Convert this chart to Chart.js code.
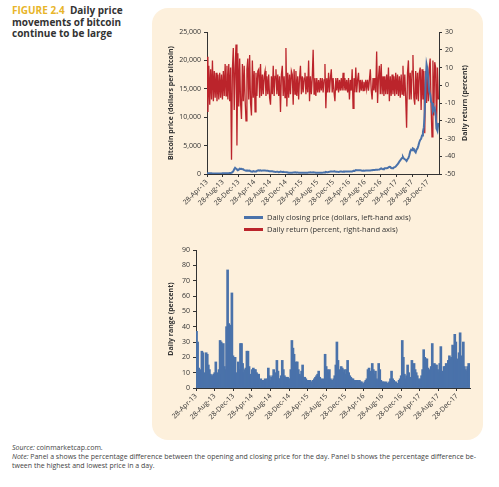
<!DOCTYPE html>
<html>
<head>
<meta charset="utf-8">
<script src="https://cdn.jsdelivr.net/npm/chart.js@4.4.1/dist/chart.umd.min.js"></script>
<style>
  body { margin: 0; background: #fff; font-family: "Open Sans", sans-serif; color: #333; }
  #wrap { position: relative; width: 499px; height: 487px; overflow: hidden; }
  .panel { position: absolute; left: 152px; top: 8px; width: 331px; height: 432px; background: #fdf0dc; border-radius: 16px; }
  .title { position: absolute; left: 12px; top: 5px; font-weight: 700; font-size: 10px; line-height: 11.5px; color: #333; }
  .title .fig { color: #e8b52a; }
  canvas { position: absolute; }
  #legend { position: absolute; left: 244px; top: 211px; font-size: 7.5px; line-height: 12px; color: #333; }
  #legend .item { display: flex; align-items: center; }
  #legend .sw { width: 19px; height: 3px; margin-right: 4px; }
  .foot { position: absolute; left: 12px; top: 443px; font-size: 7px; line-height: 9px; color: #444; width: 480px; }
</style>
</head>
<body>
<div id="wrap">
  <div class="panel"></div>
  <div class="title"><span class="fig">FIGURE 2.4</span>&nbsp; Daily price<br>movements of bitcoin<br>continue to be large</div>
  <canvas id="topChart" width="307" height="192" style="left:163px; top:22px;"></canvas>
  <div id="legend"></div>
  <canvas id="rangeChart" width="315" height="188" style="left:163px; top:240px;"></canvas>
  <div class="foot"><i>Source:</i> coinmarketcap.com.<br><i>Note:</i> Panel a shows the percentage difference between the opening and closing price for the day. Panel b shows the percentage difference be-<br>tween the highest and lowest price in a day.</div>
</div>
<script>
// weekly samples starting 28-Apr-13
const stepDays = 7;
const tickLabels = ['28-Apr-13', '28-Aug-13', '28-Dec-13', '28-Apr-14', '28-Aug-14', '28-Dec-14', '28-Apr-15',
  '28-Aug-15', '28-Dec-15', '28-Apr-16', '28-Aug-16', '28-Dec-16', '28-Apr-17', '28-Aug-17', '28-Dec-17'];

// closing price, dollars
const price = [
  130, 115, 118, 122, 130, 122, 105, 100, 105, 90,
  75, 95, 90, 95, 105, 107, 110, 120, 130, 125,
  127, 125, 133, 137, 145, 175, 190, 220, 330, 500,
  820, 1100, 950, 800, 650, 760, 930, 870, 920, 830,
  820, 680, 640, 580, 610, 620, 560, 590, 480, 440,
  420, 500, 440, 440, 450, 560, 620, 650, 600, 640,
  590, 600, 630, 620, 620, 590, 580, 590, 520, 500,
  480, 480, 470, 420, 400, 380, 370, 390, 380, 330,
  340, 420, 380, 370, 380, 350, 330, 320, 310, 270,
  210, 230, 240, 230, 240, 270, 280, 290, 260, 260,
  250, 240, 220, 230, 240, 240, 240, 230, 230, 230,
  220, 230, 250, 260, 290, 280, 280, 290, 280, 270,
  230, 220, 230, 230, 240, 230, 230, 240, 250, 270,
  290, 380, 330, 330, 360, 380, 430, 440, 450, 420,
  430, 450, 380, 400, 380, 370, 410, 430, 420, 410,
  410, 420, 420, 420, 440, 460, 450, 450, 460, 450,
  440, 530, 570, 580, 690, 660, 680, 650, 660, 650,
  620, 590, 580, 590, 580, 600, 610, 600, 600, 610,
  620, 640, 650, 700, 710, 700, 730, 740, 750, 770,
  790, 900, 1000, 900, 830, 920, 1000, 1020, 1000, 1050,
  1150, 1250, 1230, 1050, 1000, 1050, 1150, 1200, 1300, 1500,
  1700, 1900, 2200, 2400, 2600, 2800, 3000, 2700, 2600, 2500,
  2300, 2600, 2800, 3300, 4000, 4300, 4200, 4500, 4400, 4000,
  3800, 4300, 4500, 5000, 5600, 6000, 6200, 6800, 7400, 8200,
  11000, 16000, 19300, 18500, 16500, 14500, 14000, 12700, 12500, 11000,
  11300, 11600, 10500, 8000, 7600, 9000
];

// daily return, percent
const dailyReturn = [
  16, -15, 11, -11, 9, -8, 14, -9, 8, -7,
  7, -9, 6, -8, 7, -7, 6, -8, 8, -6,
  12, -6, 11, -8, 12, -9, 10, -42, 9, 21,
  -14, 10, 23, -34, 18, -12, 15, -10, -19, 12,
  -9, 11, -8, -20, 9, 15, -8, 17, -10, -17,
  14, -7, 8, -15, 7, -6, 8, 9, -7, 12,
  -6, 6, -5, 5, 8, -6, 5, -5, 6, -7,
  -11, 5, -5, 11, -6, 5, 9, -5, 6, -6,
  5, -15, 6, 11, -6, 5, -7, 21, -12, 7,
  -7, 6, -5, 8, 6, -11, 9, -5, 8, -6,
  5, -8, 4, 11, -5, 5, -4, 4, 7, -5,
  5, -4, 14, -9, 5, -5, 4, 20, -5, 4,
  -6, 4, -4, 3, -4, 4, -3, 4, -4, 3,
  12, -13, 4, -4, 7, -4, 4, 9, -4, 4,
  -4, -9, 4, -3, 4, -4, 3, -3, 4, -3,
  7, -3, 4, -3, 3, -4, 4, -8, 3, -3,
  9, -13, 4, -4, 10, -4, 3, 7, -4, 3,
  -3, 3, -3, 2, -3, 3, -2, 3, -3, 3,
  9, -3, -8, 4, -3, 4, -4, 19, -10, 4,
  11, -5, 12, -5, 5, -6, 5, -5, 6, -5,
  10, -9, 5, -6, 6, -5, 5, -6, 7, -5,
  6, -6, 5, -7, 6, -5, 11, -6, 6, -7,
  -24, 7, 14, -8, 7, -8, 8, 17, -7, -11,
  8, -8, 7, -9, 7, 10, -14, 9, -8, 8,
  -27, 8, -10, 9, -9, 10, 15, -12, -29, 14,
  -17, 13, 10, -25, 10, -8
];

// daily range (high vs low), percent
const dailyRange = [
  37, 30, 13, 12, 10, 24, 23, 10, 9, 23,
  22, 15, 12, 9, 8, 8, 9, 10, 17, 10,
  9, 12, 31, 30, 9, 29, 14, 12, 40, 77,
  42, 40, 41, 62, 21, 14, 20, 10, 9, 17,
  12, 29, 29, 16, 10, 12, 13, 24, 24, 14,
  9, 8, 12, 13, 12, 12, 10, 9, 9, 5,
  6, 5, 4, 5, 6, 5, 6, 13, 8, 5,
  7, 8, 12, 10, 7, 18, 11, 6, 6, 8,
  18, 12, 8, 7, 7, 7, 6, 6, 12, 31,
  26, 22, 16, 17, 17, 12, 9, 8, 11, 15,
  7, 7, 6, 5, 5, 4, 5, 4, 4, 5,
  6, 7, 8, 9, 11, 7, 6, 5, 6, 5,
  22, 14, 12, 10, 12, 6, 5, 5, 6, 8,
  15, 30, 18, 12, 11, 14, 13, 10, 12, 9,
  12, 18, 10, 8, 7, 6, 6, 5, 5, 4,
  5, 4, 5, 4, 4, 2, 3, 4, 5, 6,
  12, 13, 10, 11, 16, 12, 9, 11, 6, 5,
  16, 12, 5, 4, 4, 4, 3, 4, 3, 3,
  4, 6, 11, 6, 5, 4, 4, 3, 3, 5,
  6, 8, 31, 20, 9, 6, 8, 15, 10, 6,
  7, 18, 14, 16, 12, 10, 8, 6, 5, 6,
  8, 12, 25, 20, 19, 19, 13, 10, 12, 14,
  29, 15, 16, 15, 15, 12, 10, 16, 27, 11,
  10, 14, 14, 16, 15, 18, 21, 19, 20, 28,
  27, 35, 30, 19, 17, 23, 36, 21, 17, 30,
  14, 12, 11, 14, 16, 12
];

const BLUE = '#4a72aa';
const RED = '#bb242b';
const INK = '#333';
const tickFont = { family: 'Open Sans', size: 7 };
const titleFont = { family: 'Open Sans', size: 7, weight: 'bold' };

const monthIdx = { Jan: 0, Feb: 1, Mar: 2, Apr: 3, May: 4, Jun: 5, Jul: 6, Aug: 7, Sep: 8, Oct: 9, Nov: 10, Dec: 11 };
const dayOf = s => {
  const [d, m, y] = s.split('-');
  return (Date.UTC(2000 + Number(y), monthIdx[m], Number(d)) - Date.UTC(2013, 3, 28)) / 864e5;
};
const tickDays = tickLabels.map(dayOf);
const xMax = 1790;
const toPoints = arr => arr.map((v, i) => ({ x: i * stepDays, y: v }));

function dateAxis() {
  return {
    type: 'linear', min: 0, max: xMax, offset: false,
    afterBuildTicks: s => { s.ticks = tickDays.map(v => ({ value: v })); },
    afterFit: s => { s.height = 40; },
    ticks: { autoSkip: false, minRotation: 45, maxRotation: 45, padding: 1, font: tickFont, color: INK,
      callback: (v, i) => tickLabels[i] },
    grid: { drawOnChartArea: false, tickLength: 3, color: INK, offset: false },
    border: { color: INK }
  };
}

function valueAxis(pos, min, max, step, width, fmt, title) {
  return {
    position: pos, min: min, max: max,
    afterFit: s => { s.width = width; },
    ticks: { stepSize: step, font: tickFont, color: INK, padding: 3, callback: fmt },
    grid: { drawOnChartArea: false, tickLength: 3, color: INK },
    border: { color: INK },
    title: title ? { display: true, text: title, font: titleFont, color: INK, padding: { top: 4, bottom: 0 } } : { display: false }
  };
}

// right-hand axis title reads bottom-to-top like the left one
const sideTitle = {
  id: 'sideTitle',
  afterDraw(chart, args, opts) {
    if (!opts.text) return;
    const { ctx, chartArea } = chart;
    ctx.save();
    ctx.translate(chartArea.right + opts.offset, (chartArea.top + chartArea.bottom) / 2);
    ctx.rotate(-Math.PI / 2);
    ctx.font = 'bold 7px "Open Sans"';
    ctx.fillStyle = INK;
    ctx.textAlign = 'center';
    ctx.textBaseline = 'middle';
    ctx.fillText(opts.text, 0, 0);
    ctx.restore();
  }
};

const topChart = new Chart(document.getElementById('topChart'), {
  type: 'line',
  data: {
    datasets: [{
      label: 'Daily closing price (dollars, left-hand axis)',
      data: toPoints(price), yAxisID: 'yL',
      borderColor: BLUE, borderWidth: 2, pointRadius: 0, tension: 0
    }, {
      label: 'Daily return (percent, right-hand axis)',
      data: toPoints(dailyReturn), yAxisID: 'yR',
      borderColor: RED, borderWidth: 1.3, pointRadius: 0, tension: 0
    }]
  },
  options: {
    responsive: false, animation: false,
    layout: { padding: { top: 10, right: 0, left: 0, bottom: 0 } },
    scales: {
      x: dateAxis(),
      yL: valueAxis('left', 0, 25000, 5000, 44, v => v.toLocaleString('en-US'), 'Bitcoin price (dollars per bitcoin)'),
      yR: valueAxis('right', -50, 30, 10, 31, v => v, null)
    },
    plugins: { legend: { display: false }, tooltip: { enabled: false },
      sideTitle: { text: 'Daily return (percent)', offset: 26 } }
  },
  plugins: [sideTitle]
});

// legend below the top panel
const legend = document.getElementById('legend');
topChart.data.datasets.forEach(ds => {
  const row = document.createElement('div');
  row.className = 'item';
  row.innerHTML = '<span class="sw" style="background:' + ds.borderColor + '"></span>' + ds.label;
  legend.appendChild(row);
});

new Chart(document.getElementById('rangeChart'), {
  type: 'bar',
  data: {
    datasets: [{
      label: 'Daily range',
      data: toPoints(dailyRange).map(p => ({ x: p.x + stepDays / 2, y: p.y })),
      backgroundColor: BLUE, borderWidth: 0,
      barPercentage: 1, categoryPercentage: 1, barThickness: 2
    }]
  },
  options: {
    responsive: false, animation: false,
    layout: { padding: { top: 10, right: 8, left: 0, bottom: 0 } },
    scales: {
      x: dateAxis(),
      y: valueAxis('left', 0, 90, 10, 33, v => v, 'Daily range (percent)')
    },
    plugins: { legend: { display: false }, tooltip: { enabled: false } }
  }
});
</script>
</body>
</html>
